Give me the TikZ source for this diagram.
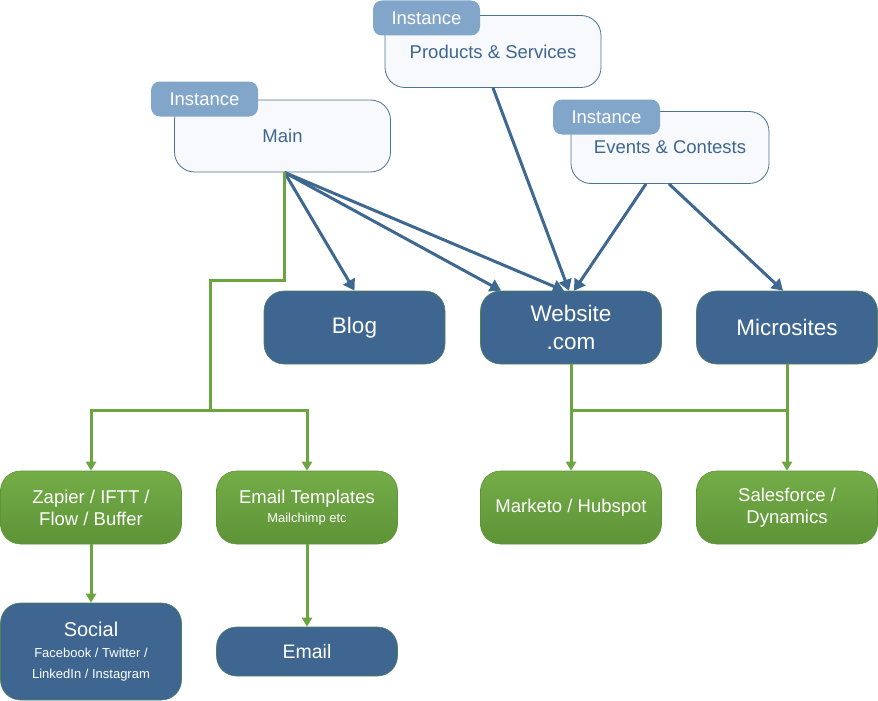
\documentclass[tikz,border=0pt]{standalone}
\usepackage{fontspec}
\setmainfont{Liberation Sans}
\usetikzlibrary{arrows.meta}
\definecolor{darkbox}{HTML}{3E6690}
\definecolor{greentop}{HTML}{74AD48}
\definecolor{greenbot}{HTML}{5E9337}
\definecolor{tagblue}{HTML}{82A6C9}
\definecolor{instfill}{HTML}{F7F9FC}
\definecolor{instline}{HTML}{4D7391}
\definecolor{bluewire}{HTML}{3F6891}
\definecolor{greenwire}{HTML}{6BA53F}
\newcommand{\bigtxt}{\fontsize{22.5}{28}\selectfont}
\newcommand{\midtxt}{\fontsize{18.5}{22}\selectfont}
\newcommand{\smalltxt}{\fontsize{13}{21}\selectfont}
\begin{document}
\begin{tikzpicture}[x=1pt, y=-1pt,
	instbox/.style={draw=instline, line width=.8pt, fill=instfill, rounded corners=20pt,
		minimum width=216pt, minimum height=72pt, inner sep=0pt, text=darkbox, font=\midtxt},
	tagbox/.style={fill=tagblue, rounded corners=9pt, minimum width=107pt, minimum height=35pt,
		inner sep=0pt, text=white, font=\midtxt},
	darkbox/.style={draw=greenbot!60!darkbox, line width=.6pt, fill=darkbox, rounded corners=20pt,
		minimum width=181pt, minimum height=73pt, inner sep=0pt, text=white, align=center, font=\bigtxt},
	greenbox/.style={draw=greenbot, line width=.6pt, top color=greentop, bottom color=greenbot,
		rounded corners=20pt, minimum width=181pt, minimum height=73pt, inner sep=0pt,
		text=white, align=center, font=\midtxt},
	barrow/.style={draw=bluewire, line width=3pt, -{Triangle[width=13pt,length=11pt]}},
	gline/.style={draw=greenwire, line width=3pt},
	garrow/.style={gline, -{Triangle[width=10pt,length=9pt]}}]
\useasboundingbox (0,0) rectangle (878,701);
% instances
\node[instbox] (main) at (282.5,136) {Main};
\node[tagbox] (maintag) at (204.5,99) {Instance};
\node[instbox] (prod) at (493,51.5) {Products \& Services};
\node[tagbox] (prodtag) at (426.5,18) {Instance};
\node[instbox, minimum width=198pt] (event) at (670,147.5) {Events \& Contests};
\node[tagbox] (eventtag) at (606.5,117) {Instance};
% sites
\node[darkbox] (blog) at (354.5,327.5) {Blog};
\node[darkbox] (web) at (571,327.5) {Website\\.com};
\node[darkbox] (micro) at (787,327.5) {Microsites};
% tools
\node[greenbox] (zapier) at (91,507.5) {Zapier / IFTT /\\Flow / Buffer};
\node[greenbox] (tmpl) at (307,507.5) {Email Templates\\[-3pt]{\fontsize{13}{16}\selectfont Mailchimp etc}};
\node[greenbox] (marketo) at (571,507.5) {Marketo / Hubspot};
\node[greenbox] (sales) at (787,507.5) {Salesforce /\\Dynamics};
% channels
\node[darkbox, minimum height=97pt, font=\fontsize{20}{21}\selectfont] (social) at (91,651.5)
	{Social\\{\smalltxt Facebook / Twitter /}\\{\smalltxt LinkedIn / Instagram}};
\node[darkbox, minimum height=49pt, font=\fontsize{19.5}{22}\selectfont] (email) at (307,651.5) {Email};
% blue arrows
\draw[barrow] ([xshift=2pt]main.south) -- (blog.north);
\draw[barrow] ([xshift=2pt]main.south) -- ([xshift=-70pt]web.north);
\draw[barrow] ([xshift=2pt]main.south) -- ([xshift=-7pt]web.north);
\draw[barrow] (prod.south) -- ([xshift=-2pt]web.north);
\draw[barrow] ([xshift=-24pt]event.south) -- ([xshift=3pt]web.north);
\draw[barrow] ([xshift=-1pt]event.south) -- ([xshift=-4pt]micro.north);
% green lines
\coordinate (jmain) at (210,280);
\coordinate (jleft) at (210,410);
\draw[gline] ([xshift=2pt]main.south) |- (jmain) -- (jleft);
\draw[garrow] (jleft) -| (zapier.north);
\draw[garrow] (jleft) -| (tmpl.north);
\draw[garrow] (zapier.south) -- (social.north);
\draw[garrow] (tmpl.south) -- (email.north);
\draw[garrow] (web.south) -- (marketo.north);
\draw[garrow] (micro.south) -- (sales.north);
\draw[gline] (web.south |- jleft) -- (micro.south |- jleft);
\end{tikzpicture}
\end{document}
